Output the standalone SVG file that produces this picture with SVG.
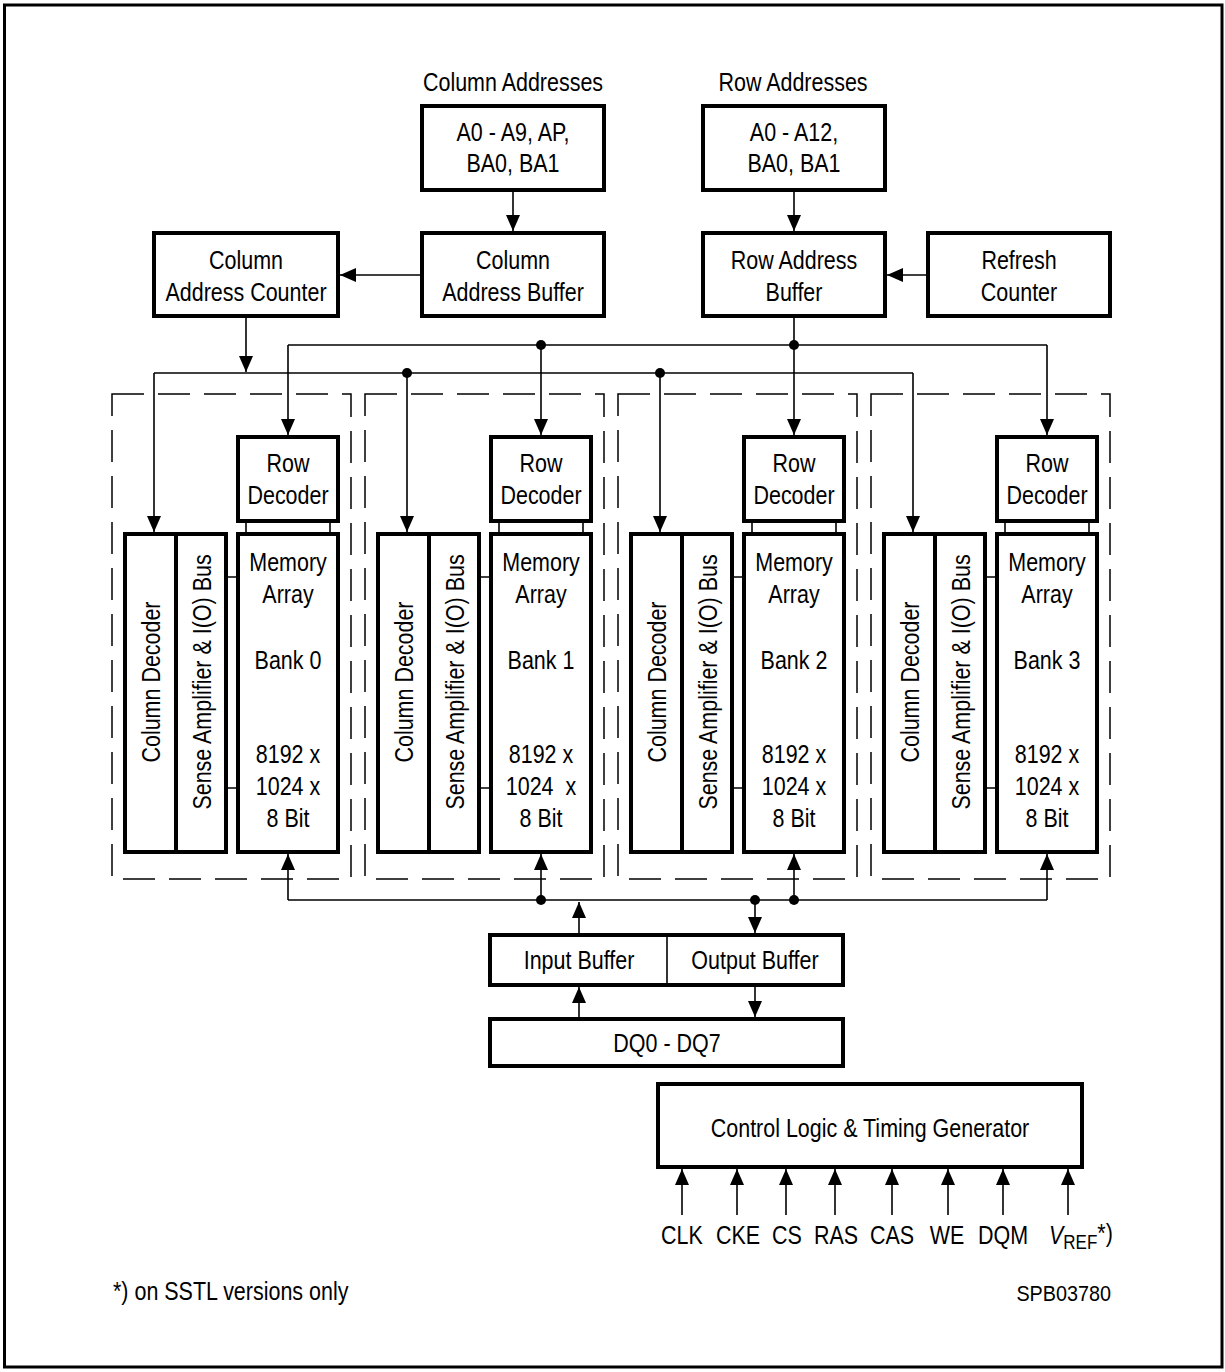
<svg xmlns="http://www.w3.org/2000/svg" width="1225" height="1372" viewBox="0 0 1225 1372">
<defs>
<style>
.t{font-family:"Liberation Sans",Arial,sans-serif;font-size:26.5px;fill:#000;text-anchor:middle}
.ts{font-family:"Liberation Sans",Arial,sans-serif;font-size:26.5px;fill:#000;text-anchor:start}
.te{font-family:"Liberation Sans",Arial,sans-serif;font-size:22px;fill:#000;text-anchor:end}
.bx{fill:#fff;stroke:#000;stroke-width:4}
.ln{fill:none;stroke:#000;stroke-width:1.6}
.ar{fill:none;stroke:#000;stroke-width:1.6;marker-end:url(#ah)}
.dash{fill:none;stroke:#000;stroke-width:1.5;stroke-dasharray:32 14}
.dot{fill:#000}
</style>
<marker id="ah" markerUnits="userSpaceOnUse" markerWidth="16" markerHeight="14" refX="16" refY="7" orient="auto" viewBox="0 0 16 14">
<path d="M0,0L16,7L0,14z" fill="#000"/>
</marker>
</defs>
<rect x="0" y="0" width="1225" height="1372" fill="#fff"/>
<rect x="4.5" y="5" width="1217.5" height="1362" fill="none" stroke="#000" stroke-width="3"/>

<!-- address inputs -->
<g id="col-addresses">
<text class="t" transform="translate(513,91) scale(.81,1)">Column Addresses</text>
<rect class="bx" x="422" y="106" width="182" height="84"/>
<text class="t" transform="translate(513,141) scale(.81,1)">A0 - A9, AP,</text>
<text class="t" transform="translate(513,172) scale(.81,1)">BA0, BA1</text>
</g>
<g id="row-addresses">
<text class="t" transform="translate(793,91) scale(.81,1)">Row Addresses</text>
<rect class="bx" x="703" y="106" width="182" height="84"/>
<text class="t" transform="translate(794,141) scale(.81,1)">A0 - A12,</text>
<text class="t" transform="translate(794,172) scale(.81,1)">BA0, BA1</text>
</g>

<g id="col-addr-counter">
<rect class="bx" x="154" y="233" width="184" height="83"/>
<text class="t" transform="translate(246,269) scale(.81,1)">Column</text>
<text class="t" transform="translate(246,301) scale(.81,1)">Address Counter</text>
</g>
<g id="col-addr-buffer">
<rect class="bx" x="422" y="233" width="182" height="83"/>
<text class="t" transform="translate(513,269) scale(.81,1)">Column</text>
<text class="t" transform="translate(513,301) scale(.81,1)">Address Buffer</text>
</g>
<g id="row-addr-buffer">
<rect class="bx" x="703" y="233" width="182" height="83"/>
<text class="t" transform="translate(794,269) scale(.81,1)">Row Address</text>
<text class="t" transform="translate(794,301) scale(.81,1)">Buffer</text>
</g>
<g id="refresh-counter">
<rect class="bx" x="928" y="233" width="182" height="83"/>
<text class="t" transform="translate(1019,269) scale(.81,1)">Refresh</text>
<text class="t" transform="translate(1019,301) scale(.81,1)">Counter</text>
</g>

<!-- banks 0..3, each shifted by 253 -->
<g id="bank0">
<rect class="dash" x="112" y="394" width="239" height="485"/>
<g id="bank0-row-decoder">
<rect class="bx" x="238" y="437" width="100" height="84"/>
<text class="t" transform="translate(288,472) scale(.81,1)">Row</text>
<text class="t" transform="translate(288,504) scale(.81,1)">Decoder</text>
</g>
<g id="bank0-column-decoder">
<rect class="bx" x="125" y="534" width="51" height="318"/>
<text class="t" transform="translate(160,682) rotate(-90) scale(.81,1)">Column Decoder</text>
</g>
<g id="bank0-sense-amp">
<rect class="bx" x="176" y="534" width="50" height="318"/>
<text class="t" transform="translate(211,682) rotate(-90) scale(.81,1)">Sense Amplifier &amp; I(O) Bus</text>
</g>
<g id="bank0-memory-array">
<rect class="bx" x="238" y="534" width="100" height="318"/>
<text class="t" transform="translate(288,571) scale(.81,1)">Memory</text>
<text class="t" transform="translate(288,603) scale(.81,1)">Array</text>
<text class="t" transform="translate(288,669) scale(.81,1)">Bank 0</text>
<text class="t" transform="translate(288,763) scale(.81,1)">8192 x</text>
<text class="t" transform="translate(288,795) scale(.81,1)">1024 x</text>
<text class="t" transform="translate(288,827) scale(.81,1)">8 Bit</text>
</g>
</g>

<g id="bank1" transform="translate(253,0)">
<rect class="dash" x="112" y="394" width="239" height="485"/>
<g id="bank1-row-decoder">
<rect class="bx" x="238" y="437" width="100" height="84"/>
<text class="t" transform="translate(288,472) scale(.81,1)">Row</text>
<text class="t" transform="translate(288,504) scale(.81,1)">Decoder</text>
</g>
<g id="bank1-column-decoder">
<rect class="bx" x="125" y="534" width="51" height="318"/>
<text class="t" transform="translate(160,682) rotate(-90) scale(.81,1)">Column Decoder</text>
</g>
<g id="bank1-sense-amp">
<rect class="bx" x="176" y="534" width="50" height="318"/>
<text class="t" transform="translate(211,682) rotate(-90) scale(.81,1)">Sense Amplifier &amp; I(O) Bus</text>
</g>
<g id="bank1-memory-array">
<rect class="bx" x="238" y="534" width="100" height="318"/>
<text class="t" transform="translate(288,571) scale(.81,1)">Memory</text>
<text class="t" transform="translate(288,603) scale(.81,1)">Array</text>
<text class="t" transform="translate(288,669) scale(.81,1)">Bank 1</text>
<text class="t" transform="translate(288,763) scale(.81,1)">8192 x</text>
<text class="t" transform="translate(288,795) scale(.81,1)">1024&#160; x</text>
<text class="t" transform="translate(288,827) scale(.81,1)">8 Bit</text>
</g>
</g>

<g id="bank2" transform="translate(506,0)">
<rect class="dash" x="112" y="394" width="239" height="485"/>
<g id="bank2-row-decoder">
<rect class="bx" x="238" y="437" width="100" height="84"/>
<text class="t" transform="translate(288,472) scale(.81,1)">Row</text>
<text class="t" transform="translate(288,504) scale(.81,1)">Decoder</text>
</g>
<g id="bank2-column-decoder">
<rect class="bx" x="125" y="534" width="51" height="318"/>
<text class="t" transform="translate(160,682) rotate(-90) scale(.81,1)">Column Decoder</text>
</g>
<g id="bank2-sense-amp">
<rect class="bx" x="176" y="534" width="50" height="318"/>
<text class="t" transform="translate(211,682) rotate(-90) scale(.81,1)">Sense Amplifier &amp; I(O) Bus</text>
</g>
<g id="bank2-memory-array">
<rect class="bx" x="238" y="534" width="100" height="318"/>
<text class="t" transform="translate(288,571) scale(.81,1)">Memory</text>
<text class="t" transform="translate(288,603) scale(.81,1)">Array</text>
<text class="t" transform="translate(288,669) scale(.81,1)">Bank 2</text>
<text class="t" transform="translate(288,763) scale(.81,1)">8192 x</text>
<text class="t" transform="translate(288,795) scale(.81,1)">1024 x</text>
<text class="t" transform="translate(288,827) scale(.81,1)">8 Bit</text>
</g>
</g>

<g id="bank3" transform="translate(759,0)">
<rect class="dash" x="112" y="394" width="239" height="485"/>
<g id="bank3-row-decoder">
<rect class="bx" x="238" y="437" width="100" height="84"/>
<text class="t" transform="translate(288,472) scale(.81,1)">Row</text>
<text class="t" transform="translate(288,504) scale(.81,1)">Decoder</text>
</g>
<g id="bank3-column-decoder">
<rect class="bx" x="125" y="534" width="51" height="318"/>
<text class="t" transform="translate(160,682) rotate(-90) scale(.81,1)">Column Decoder</text>
</g>
<g id="bank3-sense-amp">
<rect class="bx" x="176" y="534" width="50" height="318"/>
<text class="t" transform="translate(211,682) rotate(-90) scale(.81,1)">Sense Amplifier &amp; I(O) Bus</text>
</g>
<g id="bank3-memory-array">
<rect class="bx" x="238" y="534" width="100" height="318"/>
<text class="t" transform="translate(288,571) scale(.81,1)">Memory</text>
<text class="t" transform="translate(288,603) scale(.81,1)">Array</text>
<text class="t" transform="translate(288,669) scale(.81,1)">Bank 3</text>
<text class="t" transform="translate(288,763) scale(.81,1)">8192 x</text>
<text class="t" transform="translate(288,795) scale(.81,1)">1024 x</text>
<text class="t" transform="translate(288,827) scale(.81,1)">8 Bit</text>
</g>
</g>

<g id="io-buffer">
<rect class="bx" x="490" y="935" width="353" height="50"/>
<path class="ln" d="M667,935V985"/>
<text class="t" transform="translate(579,969) scale(.81,1)">Input Buffer</text>
<text class="t" transform="translate(755,969) scale(.81,1)">Output Buffer</text>
</g>
<g id="dq-pins">
<rect class="bx" x="490" y="1019" width="353" height="47"/>
<text class="t" transform="translate(667,1052) scale(.81,1)">DQ0 - DQ7</text>
</g>

<g id="control-logic">
<rect class="bx" x="658" y="1084" width="424" height="83"/>
<text class="t" transform="translate(870,1137) scale(.81,1)">Control Logic &amp; Timing Generator</text>
</g>

<g id="control-signals">
<text class="t" transform="translate(682,1244) scale(.81,1)">CLK</text>
<text class="t" transform="translate(738,1244) scale(.81,1)">CKE</text>
<text class="t" transform="translate(787,1244) scale(.81,1)">CS</text>
<text class="t" transform="translate(836,1244) scale(.81,1)">RAS</text>
<text class="t" transform="translate(892,1244) scale(.81,1)">CAS</text>
<text class="t" transform="translate(947,1244) scale(.81,1)">WE</text>
<text class="t" transform="translate(1003,1244) scale(.81,1)">DQM</text>
<text class="ts" transform="translate(1049,1244) scale(.81,1)"><tspan font-style="italic">V</tspan><tspan font-size="21" dy="5">REF</tspan><tspan dy="-7">*)</tspan></text>
</g>

<g id="notes">
<text class="ts" transform="translate(113,1300) scale(.81,1)">*) on SSTL versions only</text>
<text class="te" transform="translate(1111,1301) scale(.9,1)">SPB03780</text>
</g>

<g id="connectors">
<!-- address paths -->
<path class="ar" d="M513,192V231"/>
<path class="ar" d="M794,192V231"/>
<path class="ar" d="M420,275H340"/>
<path class="ar" d="M926,275H887"/>
<path class="ar" d="M246,318V372"/>
<!-- row address bus -->
<path class="ln" d="M288,345H1047"/>
<path class="ar" d="M288,345V435"/>
<path class="ar" d="M541,345V435"/>
<path class="ar" d="M794,318V435"/>
<path class="ar" d="M1047,345V435"/>
<!-- column address bus -->
<path class="ln" d="M154,373H913"/>
<path class="ar" d="M154,373V532"/>
<path class="ar" d="M407,373V532"/>
<path class="ar" d="M660,373V532"/>
<path class="ar" d="M913,373V532"/>
<circle class="dot" cx="541" cy="345" r="5"/>
<circle class="dot" cx="794" cy="345" r="5"/>
<circle class="dot" cx="407" cy="373" r="5"/>
<circle class="dot" cx="660" cy="373" r="5"/>
<!-- in-bank links -->
<path class="ln" d="M246,523V532M330,523V532M228,577H236M228,788H236"/>
<path class="ln" d="M499,523V532M583,523V532M481,577H489M481,788H489"/>
<path class="ln" d="M752,523V532M836,523V532M734,577H742M734,788H742"/>
<path class="ln" d="M1005,523V532M1089,523V532M987,577H995M987,788H995"/>
<!-- data bus -->
<path class="ln" d="M288,900H1047"/>
<path class="ar" d="M288,900V854"/>
<path class="ar" d="M541,900V854"/>
<path class="ar" d="M794,900V854"/>
<path class="ar" d="M1047,900V854"/>
<circle class="dot" cx="541" cy="900" r="5"/>
<circle class="dot" cx="755" cy="900" r="5"/>
<circle class="dot" cx="794" cy="900" r="5"/>
<path class="ar" d="M579,933V902"/>
<path class="ar" d="M755,900V933"/>
<path class="ar" d="M579,1017V987"/>
<path class="ar" d="M755,987V1017"/>
<!-- control inputs -->
<path class="ar" d="M682,1215V1169"/>
<path class="ar" d="M737,1215V1169"/>
<path class="ar" d="M786,1215V1169"/>
<path class="ar" d="M835,1215V1169"/>
<path class="ar" d="M892,1215V1169"/>
<path class="ar" d="M948,1215V1169"/>
<path class="ar" d="M1003,1215V1169"/>
<path class="ar" d="M1068,1215V1169"/>
</g>
</svg>
